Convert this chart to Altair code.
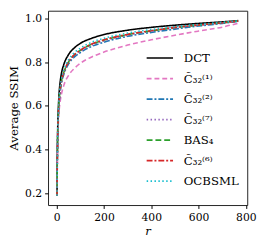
import altair as alt
import pandas as pd

r = [1, 2, 4, 7, 10, 15, 20, 30, 50, 75, 100, 150, 200, 300, 400, 500, 600, 700, 768]

DCT    = [0.19, 0.34, 0.50, 0.60, 0.66, 0.715, 0.75, 0.79, 0.835, 0.866, 0.886, 0.910, 0.926, 0.946, 0.959, 0.969, 0.977, 0.984, 0.990]
C1     = [0.19, 0.30, 0.44, 0.53, 0.58, 0.625, 0.655, 0.695, 0.740, 0.772, 0.795, 0.825, 0.846, 0.878, 0.902, 0.923, 0.942, 0.960, 0.978]
C2     = [0.19, 0.32, 0.47, 0.56, 0.615, 0.67, 0.705, 0.745, 0.792, 0.824, 0.844, 0.873, 0.891, 0.918, 0.936, 0.951, 0.965, 0.977, 0.986]
C7     = [0.19, 0.32, 0.475, 0.565, 0.62, 0.675, 0.71, 0.750, 0.797, 0.830, 0.850, 0.879, 0.897, 0.923, 0.941, 0.956, 0.968, 0.979, 0.987]
BAS4   = [0.19, 0.32, 0.475, 0.57, 0.625, 0.68, 0.715, 0.754, 0.801, 0.834, 0.854, 0.883, 0.901, 0.926, 0.943, 0.958, 0.970, 0.980, 0.988]
C6     = [0.19, 0.32, 0.475, 0.57, 0.625, 0.68, 0.715, 0.755, 0.802, 0.835, 0.855, 0.884, 0.902, 0.927, 0.944, 0.959, 0.970, 0.980, 0.988]
OCBSML = [0.19, 0.33, 0.485, 0.58, 0.635, 0.69, 0.725, 0.764, 0.811, 0.844, 0.864, 0.892, 0.909, 0.933, 0.949, 0.962, 0.972, 0.982, 0.989]

names = ["DCT", "C\u0303\u2083\u2082\u207d\u00b9\u207e", "C\u0303\u2083\u2082\u207d\u00b2\u207e",
         "C\u0303\u2083\u2082\u207d\u2077\u207e", "BAS\u2084", "C\u0303\u2083\u2082\u207d\u2076\u207e", "OCBSML"]
series = [DCT, C1, C2, C7, BAS4, C6, OCBSML]
colors = ["#000000", "#e377c2", "#1f77b4", "#9467bd", "#2ca02c", "#d62728", "#17becf"]
dashes = [[1, 0], [5, 3], [6, 2, 2, 2], [1.5, 2.5], [6, 3], [6, 2, 2, 2], [1.5, 2.5]]

rows = []
for i, (n, s) in enumerate(zip(names, series)):
    for rv, v in zip(r, s):
        rows.append({"r": rv, "ssim": v, "method": n, "order": i})
df = pd.DataFrame(rows)

font = "DejaVu Serif"

leg = alt.Legend(title=None, orient="none", legendX=100, legendY=34,
                 symbolType="stroke", symbolSize=729, symbolStrokeWidth=1.6,
                 labelFontSize=12, labelFont=font, labelColor="black",
                 labelOffset=10, rowPadding=-4, padding=0)

axis_common = dict(titleFontWeight="normal", grid=False, domain=False, tickSize=3.5,
                   tickColor="black", labelFontSize=11, titleFontSize=12,
                   labelPadding=3, titlePadding=4, labelFont=font, titleFont=font,
                   labelColor="black", titleColor="black")

chart = alt.Chart(df).mark_line(strokeWidth=1.6, interpolate="monotone").encode(
    x=alt.X("r:Q", scale=alt.Scale(domain=[-37, 806], nice=False, zero=False),
            axis=alt.Axis(values=[0, 200, 400, 600, 800], title="r", titleFontStyle="italic",
                          **axis_common)),
    y=alt.Y("ssim:Q", scale=alt.Scale(domain=[0.147, 1.035], nice=False, zero=False),
            axis=alt.Axis(values=[0.2, 0.4, 0.6, 0.8, 1.0], format=".1f", title="Average SSIM",
                          **axis_common)),
    color=alt.Color("method:N", sort=names, scale=alt.Scale(domain=names, range=colors),
                    legend=leg),
    strokeDash=alt.StrokeDash("method:N", sort=names, scale=alt.Scale(domain=names, range=dashes),
                              legend=leg),
    order="order:Q",
).properties(
    width=204, height=199, padding={"left": 0, "top": 0, "right": 0, "bottom": 0}
).configure_view(stroke="#222222", strokeWidth=1)

chart.save("out.html", embed_options={"renderer": "svg", "actions": False})
